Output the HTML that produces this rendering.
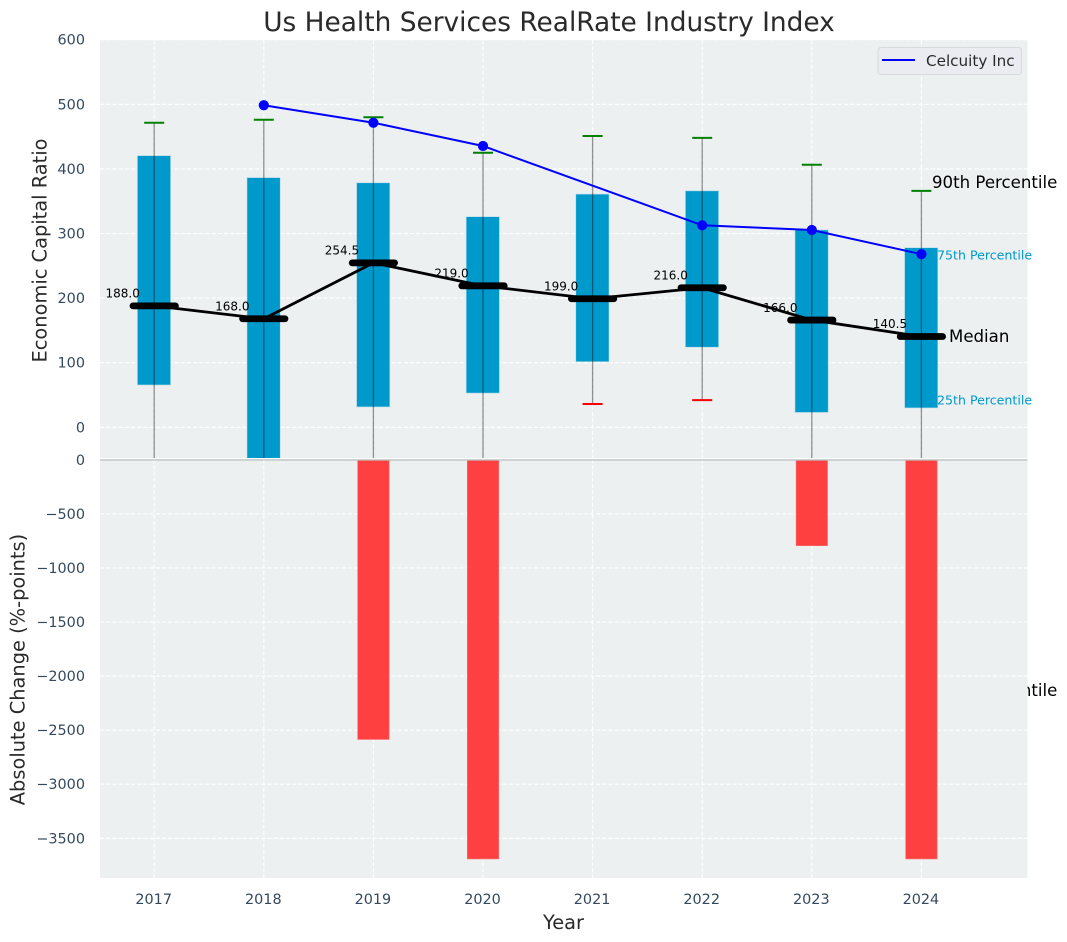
<!DOCTYPE html>
<html>
<head>
<meta charset="utf-8">
<title>Us Health Services RealRate Industry Index</title>
<style>
html,body{margin:0;padding:0;background:#fff;}
svg{display:block;font-family:"DejaVu Sans","Liberation Sans",sans-serif;}
</style>
</head>
<body>
<svg id="chart" xmlns="http://www.w3.org/2000/svg" width="1067" height="942" viewBox="0 0 1067 942">
  <defs>
    <clipPath id="top-clip"><rect x="100" y="40" width="927.5" height="418"/></clipPath>
  </defs>
  <text x="549" y="31" text-anchor="middle" font-size="26.4" fill="#2a2a2a">Us Health Services RealRate Industry Index</text>
  <text x="932" y="696" font-size="16.6" fill="#000">10th Percentile</text>
  <rect x="100" y="40" width="927.5" height="418" fill="#ecf0f1"/>
  <rect x="100" y="459" width="927.5" height="419" fill="#ecf0f1"/>
  <g id="grid"></g>
  <g id="bottom-bars"></g>
  <g id="top-marks" clip-path="url(#top-clip)"></g>
  <line x1="100" x2="1027.5" y1="460" y2="460" stroke="#bdbfc0" stroke-width="1.3"/>
  <g id="overlay"></g>
  <g id="ticks"></g>
  <text transform="translate(46.5,250.5) rotate(-90)" text-anchor="middle" font-size="19.4" fill="#2a2a2a">Economic Capital Ratio</text>
  <text transform="translate(24.5,669.5) rotate(-90)" text-anchor="middle" font-size="19.4" fill="#2a2a2a">Absolute Change (%-points)</text>
  <text x="563.5" y="929" text-anchor="middle" font-size="19.4" fill="#2a2a2a">Year</text>
  <text x="932" y="188" font-size="16.6" fill="#000">90th Percentile</text>
  <text x="937" y="259.5" font-size="12.6" fill="#0099cc">75th Percentile</text>
  <text x="949" y="342" font-size="16.6" fill="#000">Median</text>
  <text x="937" y="404.5" font-size="12.6" fill="#0099cc">25th Percentile</text>
  <g>
    <rect x="878" y="47.5" width="143.5" height="27" rx="3" fill="#eaecf1" stroke="#d8dadc" stroke-width="1"/>
    <line x1="882" x2="915" y1="60" y2="60" stroke="#0000ff" stroke-width="2"/>
    <text x="926" y="66" font-size="15.2" fill="#2a2a2a">Celcuity Inc</text>
  </g>
</svg>
<script>
const years = [2017, 2018, 2019, 2020, 2021, 2022, 2023, 2024];
const p90 = [471.5, 476, 480, 425, 451, 448, 406.5, 366];
const p75 = [420.5, 386.5, 378.5, 326, 361, 366, 305.5, 278];
const p50 = [188.0, 168.0, 254.5, 219.0, 199.0, 216.0, 166.0, 140.5];
const p25 = [65.5, -60, 31.5, 53, 101.5, 124, 23, 30];
const p10 = [-70, -90, -75, -65, 36, 42, -80, -75];
const company = [null, 498.5, 471.5, 435.5, null, 312.7, 305.4, 268];
const absChange = [0, 0, -2586, -3691, 0, 0, -794, -3691];
const topTicks = [0, 100, 200, 300, 400, 500, 600];
const bottomTicks = [0, -500, -1000, -1500, -2000, -2500, -3000, -3500];

const NS = 'http://www.w3.org/2000/svg';
const x = function (year) { return 154.2 + (year - 2017) * 109.6; };
const yTop = function (v) { return 427.3 - v * 0.646; };
const yBottom = function (v) { return 459.8 - v * 0.10814; };

function make(tag, parentId, attrs, content) {
  const el = document.createElementNS(NS, tag);
  for (const k in attrs) el.setAttribute(k, attrs[k]);
  if (content !== undefined) el.textContent = content;
  document.getElementById(parentId).appendChild(el);
  return el;
}
const GRID = { stroke: '#ffffff', 'stroke-width': 1.1, 'stroke-dasharray': '4.2 2' };

topTicks.forEach(function (t) {
  const g = make('line', 'grid', Object.assign({ x1: 100, x2: 1027.5, y1: yTop(t), y2: yTop(t) }, GRID));
  
  
  const l = make('text', 'ticks', { x: 85, y: yTop(t) + 5, 'text-anchor': 'end', 'font-size': 14.4, fill: '#34495e' }, String(t));
  
  
});
bottomTicks.forEach(function (t) {
  if (t !== 0) {
    const g = make('line', 'grid', Object.assign({ x1: 100, x2: 1027.5, y1: yBottom(t), y2: yBottom(t) }, GRID));
    
    
  }
  const l = make('text', 'ticks', { x: 85, y: yBottom(t) + 5, 'text-anchor': 'end', 'font-size': 14.4, fill: '#34495e' }, String(t).replace('-', '\u2212'));
  
  
});

years.forEach(function (year, i) {
  const cx = x(year);
  const g1 = make('line', 'grid', Object.assign({ x1: cx, x2: cx, y1: 40, y2: 458 }, GRID));
  
  
  const g2 = make('line', 'grid', Object.assign({ x1: cx, x2: cx, y1: 459, y2: 878 }, GRID));
  
  

  const tick = make('text', 'ticks', { x: cx - 0.5, y: 904, 'text-anchor': 'middle', 'font-size': 14.4, fill: '#34495e' }, String(year));
  
  

  if (absChange[i] !== 0) {
    const bar = make('rect', 'bottom-bars', { x: cx - 15.7, y: yBottom(0), width: 31.4, height: yBottom(absChange[i]) - yBottom(0), fill: '#ff4040', stroke: '#ff6a6a', 'stroke-width': 0.6 });
    
    
  }

  const box = make('rect', 'top-marks', { x: cx - 16.8, y: yTop(p75[i]), width: 33.2, height: yTop(p25[i]) - yTop(p75[i]), fill: '#0099cc', stroke: '#b5dbe8', 'stroke-width': 0.6 });
  
  

  const whisker = make('line', 'top-marks', { x1: cx, x2: cx, y1: yTop(p90[i]), y2: yTop(p10[i]), stroke: '#000', 'stroke-opacity': 0.42, 'stroke-width': 1.3 });
  
  

  const hi = make('line', 'top-marks', { x1: cx - 10, x2: cx + 10, y1: yTop(p90[i]), y2: yTop(p90[i]), stroke: '#008000', 'stroke-width': 2 });
  
  

  const lo = make('line', 'top-marks', { x1: cx - 10, x2: cx + 10, y1: yTop(p10[i]), y2: yTop(p10[i]), stroke: '#ff0000', 'stroke-width': 2 });
  
  
});

const medianPts = years.map(function (year, i) { return x(year) + ',' + yTop(p50[i]); }).join(' ');
const medianLine = make('polyline', 'overlay', { points: medianPts, fill: 'none', stroke: '#000', 'stroke-width': 2.8, 'stroke-linejoin': 'round' });



const companyPts = years.map(function (year, i) { return company[i] === null ? null : x(year) + ',' + yTop(company[i]); }).filter(Boolean).join(' ');
const companyLine = make('polyline', 'overlay', { points: companyPts, fill: 'none', stroke: '#0000ff', 'stroke-width': 2 });



years.forEach(function (year, i) {
  const cx = x(year);
  const my = yTop(p50[i]);
  const seg = make('line', 'overlay', { x1: cx - 21.2, x2: cx + 21.2, y1: my, y2: my, stroke: '#000', 'stroke-width': 6.8, 'stroke-linecap': 'round' });
  
  

  const label = make('text', 'overlay', { x: cx - 14.3, y: my - 8.3, 'text-anchor': 'end', 'font-size': 12, fill: '#000' }, p50[i].toFixed(1));
  
  

  if (company[i] !== null) {
    const dot = make('circle', 'overlay', { cx: cx, cy: yTop(company[i]), r: 5.1, fill: '#0000ff' });
    
    
  }
});
</script>
</body>
</html>
